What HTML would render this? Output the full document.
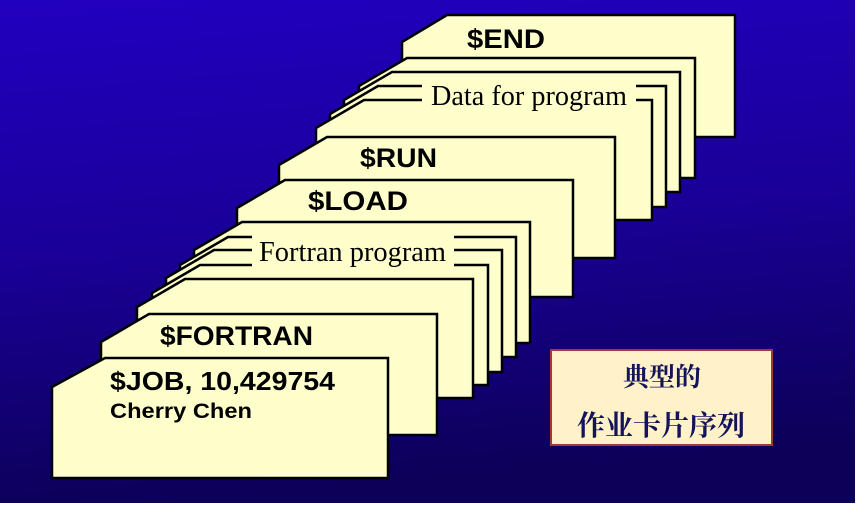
<!DOCTYPE html>
<html><head><meta charset="utf-8"><style>
html,body{margin:0;padding:0;background:#fff}
svg{display:block}
.b{font-family:"Liberation Sans",Arial,sans-serif;font-weight:bold;fill:#000}
.s{font-family:"Liberation Serif",serif;fill:#000}
.c{font-family:"Liberation Serif","Noto Serif CJK SC",serif;fill:#14145a;font-weight:bold}
</style></head><body>
<svg width="858" height="506" viewBox="0 0 858 506" xmlns="http://www.w3.org/2000/svg">
<defs>
<linearGradient id="bg" x1="0" y1="0" x2="0.15" y2="1">
<stop offset="0" stop-color="#2200c0"/>
<stop offset="0.5" stop-color="#1a0098"/>
<stop offset="1" stop-color="#0c0058"/>
</linearGradient>
</defs>
<rect x="0" y="0" width="858" height="506" fill="url(#bg)"/>
<rect x="855" y="0" width="3" height="506" fill="#fff"/>
<rect x="0" y="503" width="858" height="3" fill="#fff"/>
<g fill="#ffffcc" stroke="#000" stroke-width="2.5" stroke-linejoin="miter">
<polygon points="402,42 447,15 735,15 735,137 402,137"/>
<polygon points="359,86 407,58 695,58 695,178 359,178"/>
<polygon points="344,100 392,72 680,72 680,192 344,192"/>
<polygon points="330,114 378,86 666,86 666,207 330,207"/>
<polygon points="316,128 364,100 652,100 652,220 316,220"/>
<polygon points="279,165 327,137 615,137 615,258 279,258"/>
<polygon points="237,208 285,180 573,180 573,297 237,297"/>
<polygon points="194,250 242,222 530,222 530,343 194,343"/>
<polygon points="180,265 228,237 516,237 516,357 180,357"/>
<polygon points="166,278 214,250 502,250 502,372 166,372"/>
<polygon points="152,293 200,265 488,265 488,385 152,385"/>
<polygon points="137,307 185,279 473,279 473,398 137,398"/>
<polygon points="101,342 149,314 437,314 437,435 101,435"/>
<polygon points="52,387 105,358 388,358 388,478 52,478"/>
</g>
<rect x="422" y="78" width="214" height="34" fill="#ffffcc"/>
<rect x="252" y="235" width="202" height="34" fill="#ffffcc"/>
<text class="b" x="467" y="48" font-size="27" textLength="78" lengthAdjust="spacingAndGlyphs">$END</text>
<text class="s" x="431" y="105" font-size="28" textLength="196" lengthAdjust="spacingAndGlyphs">Data for program</text>
<text class="b" x="360" y="167" font-size="27" textLength="77" lengthAdjust="spacingAndGlyphs">$RUN</text>
<text class="b" x="308" y="210" font-size="27" textLength="100" lengthAdjust="spacingAndGlyphs">$LOAD</text>
<text class="s" x="259" y="261" font-size="28" textLength="187" lengthAdjust="spacingAndGlyphs">Fortran program</text>
<text class="b" x="160" y="345" font-size="27" textLength="153" lengthAdjust="spacingAndGlyphs">$FORTRAN</text>
<text class="b" x="110" y="390" font-size="26" textLength="225" lengthAdjust="spacingAndGlyphs">$JOB, 10,429754</text>
<text class="b" x="110" y="418" font-size="21" textLength="142" lengthAdjust="spacingAndGlyphs">Cherry Chen</text>
<rect x="551" y="350" width="221" height="95" fill="#fff2c8" stroke="#a03a3a" stroke-width="2"/>
<text class="c" x="662" y="386" font-size="26" text-anchor="middle">典型的</text>
<text class="c" x="661" y="435" font-size="28" text-anchor="middle">作业卡片序列</text>
</svg>
</body></html>
